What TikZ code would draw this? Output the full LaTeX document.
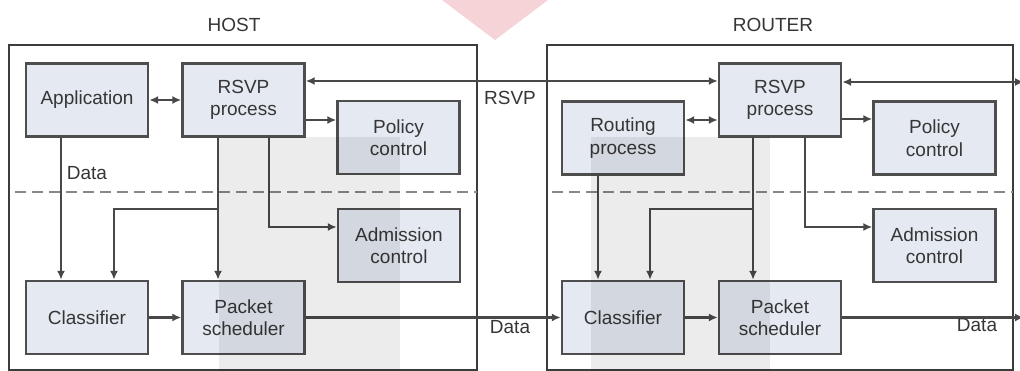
\documentclass[tikz,border=0pt]{standalone}
\usepackage{fontspec}
\setmainfont{Liberation Sans}
\usetikzlibrary{arrows.meta}

\definecolor{boxfill}{HTML}{E4E9F2}
\definecolor{boxline}{HTML}{4E4E4E}
\definecolor{wire}{HTML}{484848}
\definecolor{txt}{HTML}{363636}
\definecolor{frame}{HTML}{3C3C3C}
\definecolor{sep}{HTML}{888888}
\definecolor{pinkmark}{HTML}{F6D3D6}

\tikzset{
  block/.style={draw=boxline, line width=2.4pt, fill=boxfill,
    minimum width=122pt, minimum height=73pt, align=center,
    text=txt, inner sep=2pt},
  wireline/.style={draw=wire, line width=2.2pt},
  arr/.style={wireline, -{Latex[length=9pt,width=8pt]}},
  darr/.style={wireline, {Latex[length=9pt,width=8pt]}-{Latex[length=9pt,width=8pt]}},
  outer/.style={draw=frame, line width=1.7pt},
  sepline/.style={draw=sep, line width=2pt, dash pattern=on 11pt off 6pt},
  lbl/.style={text=txt, inner sep=0pt},
}

\begin{document}
\begin{tikzpicture}[x=1pt, y=-1pt, font=\fontsize{19}{22.5}\selectfont]
\useasboundingbox (0,0) rectangle (1020,371);
\fill[white] (0,0) rectangle (1020,371);

% mark at the top centre
\fill[pinkmark] (442,0) -- (548,0) -- (495,40) -- cycle;

% the two systems
\draw[outer] (9,45) rectangle (477,370);
\draw[outer] (547,45) rectangle (1013,370);
\node[lbl] (hosttitle) at (234,25) {HOST};
\node[lbl] (routertitle) at (773,25) {ROUTER};

% control plane / data plane separators
\draw[sepline] (15,192) -- (477,192);
\draw[sepline] (552,192) -- (1013,192);

% host blocks
\node[block] (app)   at (87,100)    {Application};
\node[block] (hrsvp) at (243.5,100) {RSVP\\process};
\node[block] (hpol)  at (398.5,137.5) {Policy\\control};
\node[block] (hadm)  at (399,245.5) {Admission\\control};
\node[block] (hcls)  at (87,317.5)  {Classifier};
\node[block] (hps)   at (243.5,317.5) {Packet\\scheduler};

% router blocks
\node[block] (rrt)   at (623,138)   {Routing\\process};
\node[block] (rrsvp) at (780,100)   {RSVP\\process};
\node[block] (rpol)  at (934.5,138) {Policy\\control};
\node[block] (radm)  at (934.5,245.5) {Admission\\control};
\node[block] (rcls)  at (623,317.5) {Classifier};
\node[block] (rps)   at (780,317.5) {Packet\\scheduler};

% host connections
\draw[darr] (app.east) -- (hrsvp.west);
\draw[arr] (hrsvp.east |- 0,120) -- (hpol.west |- 0,120);
\draw[arr] (app.south -| 61,0) -- (hcls.north -| 61,0);
\node[lbl] (hdata) at (87,173) {Data};
\draw[arr] (hrsvp.south -| 218,0) -- (hps.north -| 218,0);
\coordinate (hbr) at (218,209);
\draw[arr] (hbr) -| (hcls.north -| 114,0);
\draw[arr] (hrsvp.south -| 269,0) |- (hadm.west |- 0,227);
\draw[arr] (hcls.east) -- (hps.west);

% between host and router
\draw[darr] (hrsvp.east |- 0,81) -- (rrsvp.west |- 0,81);
\node[lbl] (rsvplbl) at (510,98) {RSVP};
\draw[arr] (hps.east) -- (rcls.west);
\node[lbl] (mdata) at (510,327) {Data};

% router connections
\draw[darr] (rrt.east |- 0,120) -- (rrsvp.west |- 0,120);
\draw[arr] (rrsvp.east |- 0,119) -- (rpol.west |- 0,119);
\coordinate (rnext) at (1024,82);
\draw[darr] (rrsvp.east |- 0,82) -- (rnext);
\draw[arr] (rrt.south -| 598,0) -- (rcls.north -| 598,0);
\draw[arr] (rrsvp.south -| 753,0) -- (rps.north -| 753,0);
\coordinate (rbr) at (753,209);
\draw[arr] (rbr) -| (rcls.north -| 650,0);
\draw[arr] (rrsvp.south -| 805,0) |- (radm.west |- 0,227);
\draw[arr] (rcls.east) -- (rps.west);
\coordinate (rout) at (1024,317.5);
\draw[arr] (rps.east) -- (rout);
\node[lbl] (rdata) at (977,325) {Data};

% light vertical shading bands
\fill[black, fill opacity=0.075] (219,137) rectangle (400,371);
\fill[black, fill opacity=0.075] (591,137) rectangle (770,371);
\end{tikzpicture}
\end{document}
